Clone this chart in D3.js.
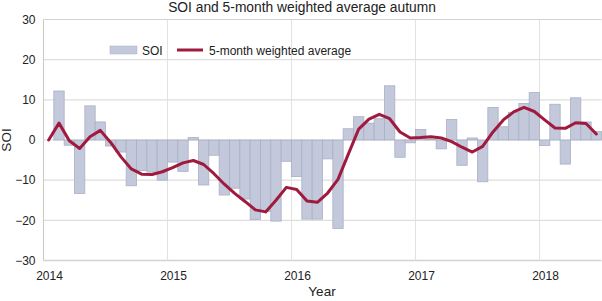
<!DOCTYPE html>
<html>
<head>
<meta charset="utf-8">
<script src="https://cdn.jsdelivr.net/npm/d3@7/dist/d3.min.js"></script>
<style>
  html, body { margin: 0; padding: 0; background: #fff; }
  svg { display: block; font-family: "Liberation Sans", Arial, Helvetica, sans-serif; }
</style>
</head>
<body>
<svg id="chart" width="602" height="301"></svg>
<script>
// ---- Data ----
const months = [
  "2013-12",
  "2014-01","2014-02","2014-03","2014-04","2014-05","2014-06","2014-07","2014-08","2014-09","2014-10","2014-11","2014-12",
  "2015-01","2015-02","2015-03","2015-04","2015-05","2015-06","2015-07","2015-08","2015-09","2015-10","2015-11","2015-12",
  "2016-01","2016-02","2016-03","2016-04","2016-05","2016-06","2016-07","2016-08","2016-09","2016-10","2016-11","2016-12",
  "2017-01","2017-02","2017-03","2017-04","2017-05","2017-06","2017-07","2017-08","2017-09","2017-10","2017-11","2017-12",
  "2018-01","2018-02","2018-03","2018-04","2018-05"
];
const soi = [
  0,
  12.2, -1.3, -13.3, 8.5, 4.5, -1.5, -3.0, -11.4, -7.6, -8.0, -10.0, -5.5,
  -7.8, 0.6, -11.2, -3.8, -13.7, -12.0, -14.7, -19.8, -17.8, -20.2, -5.3, -9.1,
  -19.7, -19.7, -4.7, -22.0, 2.8, 5.8, 4.2, 5.3, 13.5, -4.3, -0.7, 2.6,
  0.2, -2.2, 5.1, -6.3, 0.5, -10.4, 8.1, 3.3, 6.9, 9.1, 11.8, -1.4,
  8.9, -6.0, 10.5, 4.5, 2.1
];
const weightedAvg = [
  0,
  4.2, -0.2, -2.1, 0.8, 2.4, -0.6, -4.2, -7.2, -8.5, -8.6, -7.9, -6.9,
  -5.7, -5.1, -6.1, -8.4, -11.0, -13.3, -15.3, -17.4, -17.9, -15.0, -11.8, -12.3,
  -15.2, -15.5, -13.2, -9.8, -3.5, 2.7, 5.2, 6.4, 5.3, 2.0, 0.5, 0.6,
  0.8, 0.5, -0.4, -1.8, -3.0, -1.6, 2.0, 5.0, 7.0, 8.1, 7.1, 5.0,
  3.0, 2.9, 4.3, 4.1, 1.5
];
const yearTicks = [2014, 2015, 2016, 2017, 2018];
const yTicks = [-30, -20, -10, 0, 10, 20, 30];
const titleText = "SOI and 5-month weighted average autumn";
const legendLabels = ["SOI", "5-month weighted average"];

// ---- Layout ----
const svg = d3.select("#chart");
const plotLeft = 43.5, plotRight = 601.5, plotTop = 19.5, plotBottom = 260.5;

const x = d3.scaleLinear().domain([0, months.length]).range([plotLeft, plotRight]);
const y = d3.scaleLinear().domain([-30, 30]).range([plotBottom, plotTop]);
const yearPos = yr => (yr - 2014) * 12; // band index where each year's gridline sits

const barColor = "#c3c9db", barStroke = "#a9b0c5", lineColor = "#a01a3e";

// gridlines
const grid = svg.append("g");
grid.selectAll("line.h").data(yTicks).join("line")
  .attr("x1", plotLeft).attr("x2", plotRight)
  .attr("y1", d => y(d)).attr("y2", d => y(d))
  .attr("stroke", d => (d === -30 || d === 30) ? "#d2d2d2" : "#dedede")
  .attr("stroke-width", d => d === -30 ? 1.6 : 1.1);
grid.selectAll("line.v").data(yearTicks.slice(1)).join("line")
  .attr("x1", d => x(yearPos(d))).attr("x2", d => x(yearPos(d)))
  .attr("y1", plotTop).attr("y2", plotBottom)
  .attr("stroke", "#e2e2e2").attr("stroke-width", 1.1);
svg.append("line").attr("x1", plotLeft).attr("x2", plotLeft).attr("y1", plotTop).attr("y2", plotBottom)
  .attr("stroke", "#c9c9c9").attr("stroke-width", 1);

// bars
svg.append("g").selectAll("rect").data(soi).join("rect")
  .attr("x", (d, i) => x(i))
  .attr("width", (d, i) => x(i + 1) - x(i))
  .attr("y", d => y(Math.max(0, d)))
  .attr("height", d => Math.abs(y(d) - y(0)))
  .attr("fill", barColor)
  .attr("stroke", d => d === 0 ? "none" : barStroke)
  .attr("stroke-width", 0.8);

// line
const line = d3.line().x((d, i) => x(i + 0.5)).y(d => y(d)).curve(d3.curveLinear);
svg.append("path").datum(weightedAvg)
  .attr("d", line)
  .attr("fill", "none")
  .attr("stroke", lineColor)
  .attr("stroke-width", 3)
  .attr("stroke-linejoin", "round")
  .attr("stroke-linecap", "round");

// y tick labels
svg.append("g").selectAll("text").data(yTicks).join("text")
  .attr("x", 35.5).attr("y", d => y(d)).attr("dy", "0.36em")
  .attr("text-anchor", "end").attr("font-size", 12).attr("fill", "#222")
  .text(d => d < 0 ? "\u2212" + Math.abs(d) : String(d));

// x tick labels
svg.append("g").selectAll("text").data(yearTicks).join("text")
  .attr("x", d => x(yearPos(d)) + 6).attr("y", 280)
  .attr("text-anchor", "middle").attr("font-size", 12).attr("fill", "#222")
  .text(d => d);

// title
svg.append("text").attr("x", 302).attr("y", 12)
  .attr("text-anchor", "middle").attr("font-size", 13.8).attr("fill", "#222")
  .text(titleText);

// axis titles
svg.append("text").attr("x", 322).attr("y", 296)
  .attr("text-anchor", "middle").attr("font-size", 13.5).attr("fill", "#222")
  .text("Year");
svg.append("text").attr("transform", "translate(11,140) rotate(-90)")
  .attr("text-anchor", "middle").attr("font-size", 13.5).attr("fill", "#222")
  .text("SOI");

// legend
const lg = svg.append("g");
lg.append("rect").attr("x", 110).attr("y", 46).attr("width", 27).attr("height", 8)
  .attr("fill", barColor).attr("stroke", barStroke).attr("stroke-width", 0.5);
lg.append("text").attr("x", 142).attr("y", 55).attr("font-size", 12).attr("fill", "#222").text(legendLabels[0]);
lg.append("line").attr("x1", 177).attr("x2", 203).attr("y1", 50).attr("y2", 50)
  .attr("stroke", lineColor).attr("stroke-width", 3);
lg.append("text").attr("x", 209).attr("y", 55).attr("font-size", 12).attr("fill", "#222").text(legendLabels[1]);
</script>
</body>
</html>
